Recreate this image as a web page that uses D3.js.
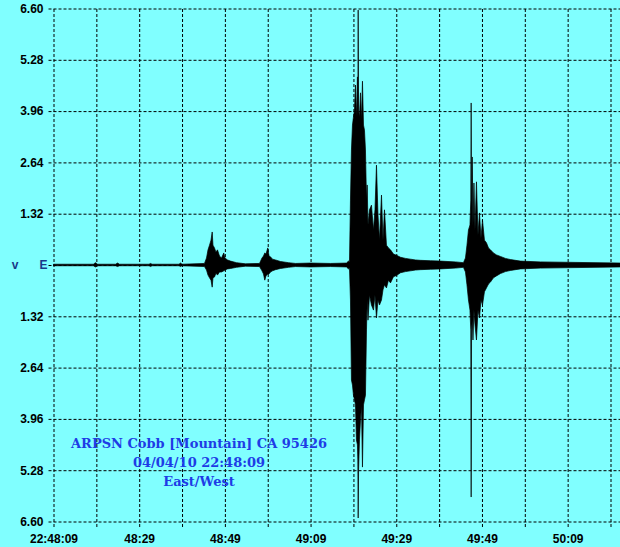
<!DOCTYPE html>
<html><head><meta charset="utf-8">
<script src="https://cdn.jsdelivr.net/npm/d3@7/dist/d3.min.js"></script>
<style>
html,body{margin:0;padding:0;background:#80ffff;}
svg{display:block;}
</style></head>
<body>
<svg id="c" width="620" height="547"></svg>
<script>
// ---- data ----
const yTicks = [-6.60, -5.28, -3.96, -2.64, -1.32, 0, 1.32, 2.64, 3.96, 5.28, 6.60];
const xTicks = [0, 10, 20, 30, 40, 50, 60, 70, 80, 90, 100, 110, 120, 130];
const xTickLabels = {0: "22:48:09", 20: "48:29", 40: "48:49", 60: "49:09", 80: "49:29", 100: "49:49", 120: "50:09"};
const titleLines = ["ARPSN Cobb [Mountain] CA 95426", "04/04/10 22:48:09", "East/West"];

// envelope of the East/West trace: time (s after 22:48:09), upper and lower amplitude
const traceTime = [
  0, 9.3, 9.8, 10.3, 14.5, 14.94, 15.4, 22.3, 22.64, 23, 29.3, 29.64, 30,
  35.24, 35.71, 36.06, 36.41, 36.76, 37.04, 37.22, 37.57, 37.92, 38.27, 38.74, 39.21, 39.74, 40.02, 40.61, 41.31, 42.71, 44.81,
  48.08, 48.66, 49.01, 49.31, 49.59, 50.01, 50.29, 50.64, 51.11, 51.81, 52.98, 54.84, 56.48,
  59.98, 64.64, 68.38, 68.84, 69.08,
  69.31, 69.54, 69.78, 70.01, 70.25, 70.48, 70.71, 70.94, 71.03, 71.11, 71.20, 71.41, 71.65, 71.88, 72.11, 72.35, 72.58, 72.81,
  73.05, 73.21, 73.40, 73.75, 74.21, 74.68, 75.03, 75.38, 75.73, 76.08, 76.55, 76.90, 77.25, 77.71, 78.18, 78.65, 79.35, 80.05,
  80.98, 82.15, 83.31, 84.48, 85.65, 87.98, 90.32, 93.82,
  95.68, 96.15, 96.50, 96.85, 97.20, 97.39, 97.48, 97.57, 97.74, 97.90, 98.13, 98.37, 98.72, 99.07, 99.42, 99.77, 100.12,
  100.58, 101.05, 101.52, 101.98, 102.68, 103.38, 104.32, 105.48, 106.65, 108.98, 113.65, 132.32];
const traceUpper = [
  0.02, 0.02, 0.06, 0.02, 0.02, 0.05, 0.02, 0.02, 0.04, 0.02, 0.02, 0.05, 0.02,
  0.04, 0.18, 0.39, 0.51, 0.64, 0.85, 0.51, 0.44, 0.33, 0.39, 0.23, 0.18, 0.31, 0.18, 0.13, 0.10, 0.06, 0.03,
  0.04, 0.18, 0.23, 0.31, 0.28, 0.44, 0.23, 0.21, 0.15, 0.13, 0.09, 0.06, 0.04,
  0.05, 0.04, 0.05, 0.10, 0.08,
  1.67, 2.96, 3.60, 3.81, 3.99, 4.63, 3.81, 4.84, 3.81, 6.56, 3.99, 3.81, 4.43, 3.73, 4.73, 3.60, 3.47, 2.96,
  1.67, 2.06, 1.03, 1.42, 1.54, 0.90, 1.42, 2.57, 1.29, 0.64, 1.80, 0.64, 1.42, 0.51, 0.44, 0.39, 0.28, 0.25,
  0.20, 0.17, 0.15, 0.13, 0.12, 0.11, 0.10, 0.08,
  0.06, 0.18, 0.51, 0.90, 1.03, 1.67, 4.17, 1.42, 2.78, 1.03, 2.11, 0.90, 2.14, 0.77, 1.34, 0.69, 1.16,
  0.64, 0.57, 0.44, 0.39, 0.31, 0.26, 0.22, 0.17, 0.14, 0.10, 0.08, 0.05];
const traceLower = [
  -0.02, -0.02, -0.05, -0.02, -0.02, -0.04, -0.02, -0.02, -0.04, -0.02, -0.02, -0.04, -0.02,
  -0.04, -0.13, -0.26, -0.33, -0.39, -0.57, -0.33, -0.31, -0.21, -0.26, -0.18, -0.18, -0.15, -0.13, -0.10, -0.09, -0.06, -0.03,
  -0.04, -0.15, -0.23, -0.39, -0.28, -0.23, -0.23, -0.18, -0.15, -0.12, -0.09, -0.06, -0.04,
  -0.05, -0.04, -0.05, -0.10, -0.08,
  -0.90, -2.96, -3.09, -3.35, -3.47, -3.60, -4.50, -4.63, -5.02, -6.51, -5.28, -4.50, -3.99, -3.60, -5.20, -3.60, -3.47, -3.35,
  -1.67, -0.90, -1.42, -0.77, -1.03, -1.16, -0.77, -1.36, -0.90, -1.03, -0.90, -0.64, -0.51, -0.59, -0.39, -0.46, -0.30, -0.27,
  -0.20, -0.17, -0.15, -0.13, -0.12, -0.11, -0.10, -0.08,
  -0.06, -0.18, -0.51, -0.90, -1.16, -1.67, -5.97, -1.67, -1.42, -1.93, -1.16, -1.54, -1.93, -1.16, -1.36, -0.90, -1.03,
  -0.69, -0.59, -0.49, -0.44, -0.33, -0.28, -0.22, -0.17, -0.14, -0.10, -0.08, -0.05];

// ---- drawing ----
const svg = d3.select("#c");
svg.append("rect").attr("width", 620).attr("height", 547).attr("fill", "#80ffff");

const x = d3.scaleLinear().domain([0, 130]).range([53.5, 610.5]);
const y = d3.scaleLinear().domain([-6.6, 6.6]).range([521.5, 8.5]);

const labelFont = "bold 12px 'Liberation Sans', Arial, sans-serif";

// horizontal grid + y labels
const yAxis = d3.axisLeft(y).tickValues(yTicks)
  .tickSize(-572).tickPadding(5)
  .tickFormat(d => d === 0 ? "" : Math.abs(d).toFixed(2));
const gy = svg.append("g").attr("transform", "translate(48.5,0)").call(yAxis);
gy.select(".domain").remove();
gy.selectAll("line").attr("stroke", "#000").attr("stroke-dasharray", "3,2");
gy.selectAll("text").style("font", labelFont).attr("fill", "#000");

// vertical grid + x labels
const xAxis = d3.axisBottom(x).tickValues(xTicks)
  .tickSize(-519).tickPadding(7)
  .tickFormat(d => xTickLabels[d] || "");
const gx = svg.append("g").attr("transform", "translate(0,527)").call(xAxis);
gx.select(".domain").remove();
gx.selectAll("line").attr("stroke", "#000").attr("stroke-dasharray", "3,2");
gx.selectAll("text").style("font", labelFont).attr("fill", "#000");

// channel labels
svg.append("text").attr("x", 15).attr("y", y(0)).attr("dy", "0.35em").attr("text-anchor", "middle")
  .style("font", labelFont).attr("fill", "#1a3a8a").text("v");
svg.append("text").attr("x", 43.5).attr("y", y(0)).attr("dy", "0.35em").attr("text-anchor", "middle")
  .style("font", labelFont).attr("fill", "#1a3a8a").text("E");

// trace
const pts = traceTime.map((t, i) => ({t, hi: traceUpper[i], lo: traceLower[i]}));
const area = d3.area().x(d => x(d.t)).y0(d => y(d.lo)).y1(d => y(d.hi));
svg.append("path").datum(pts).attr("d", area)
  .attr("fill", "#000").attr("stroke", "#000").attr("stroke-width", 0.7).attr("stroke-linejoin", "miter");

// title block
const ty = [443.5, 462, 481];
titleLines.forEach((s, i) => {
  svg.append("text").attr("x", 199).attr("y", ty[i]).attr("dy", "0.35em")
    .attr("text-anchor", "middle")
    .style("font", "bold 13px 'DejaVu Serif', serif")
    .attr("fill", "#1e3ce6").text(s);
});
</script>
</body></html>
